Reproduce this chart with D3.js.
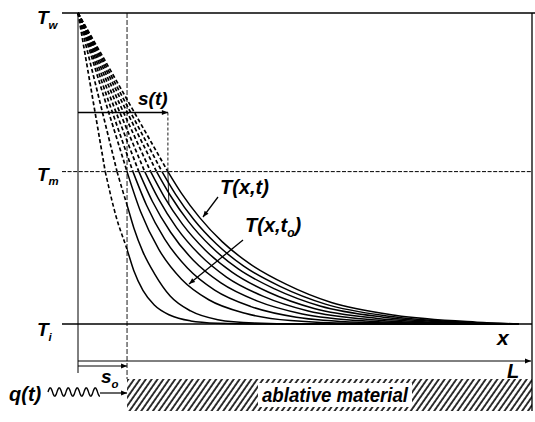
<!DOCTYPE html>
<html>
<head>
<meta charset="utf-8">
<script src="https://cdn.jsdelivr.net/npm/d3@7"></script>
<style>
  html, body { margin: 0; padding: 0; background: #fff; }
  svg { display: block; }
  text { font-family: "Liberation Sans", Arial, Helvetica, sans-serif; font-weight: bold; font-style: italic; fill: #000; }
</style>
</head>
<body>
<svg id="chart" width="535" height="422"></svg>
<script>
// Normalised temperature: initial T_i = 0, wall T_w = 100
const levelLabels = ["i", "m", "w"];
const levelValues = [0, 49, 100];

// Positions through the slab, slab length L = 100
const initialFront = 10.8;   // s_o
const currentFront = 19.8;   // s(t)
const frontGuideT = 68;      // height of the s(t) dimension line

// Where each profile reaches the melt temperature
const meltX = [6.0, 8.6, 10.8, 12.1, 13.4, 14.7, 16.0, 17.3, 18.5, 19.8];

// Profiles below the melt temperature: positions and temperatures
const profileX = [
  [6.0, 8.4, 10.8, 12.3, 14.3, 16.8, 20.3, 24.8, 30.8, 38.8, 97],
  [8.6, 9.7, 10.8, 12.3, 14.3, 16.8, 20.3, 24.8, 30.8, 38.8, 48.8, 97],
  [10.8, 13.8, 17.8, 22.8, 28.8, 36.8, 46.8, 60.8, 97],
  [12.1, 15.1, 19.1, 24.1, 30.1, 38.1, 48.1, 62.1, 80.1, 97],
  [13.4, 16.4, 20.4, 25.4, 31.4, 39.4, 49.4, 63.4, 81.4, 97],
  [14.7, 17.7, 21.7, 26.7, 32.7, 40.7, 50.7, 64.7, 82.7, 97],
  [16.0, 19.0, 23.0, 28.0, 34.0, 42.0, 52.0, 66.0, 84.0, 97],
  [17.3, 20.3, 24.3, 29.3, 35.3, 43.3, 53.3, 67.3, 85.3, 97],
  [18.5, 21.5, 25.5, 30.5, 36.5, 44.5, 54.5, 68.5, 86.5, 97],
  [19.8, 22.8, 26.8, 31.8, 37.8, 45.8, 55.8, 69.8, 87.8, 97]
];
const profileT = [
  [49, 34.5, 24.0, 17.1, 10.8, 6.1, 2.8, 1.0, 0.25, 0, 0],
  [49, 43.5, 38.3, 30.9, 23.2, 16.3, 9.0, 4.2, 1.4, 0.3, 0, 0],
  [49, 36.1, 24.0, 14.4, 7.8, 3.45, 1.1, 0.22, 0],
  [49, 38.2, 27.3, 18.0, 10.9, 5.6, 2.2, 0.57, 0.07, 0],
  [49, 39.4, 29.5, 20.5, 13.3, 7.45, 3.25, 0.98, 0.14, 0],
  [49, 40.3, 31.0, 22.4, 15.1, 8.96, 4.2, 1.4, 0.23, 0],
  [49, 40.9, 32.1, 23.8, 16.6, 10.2, 5.0, 1.8, 0.33, 0],
  [49, 41.4, 33.0, 24.9, 17.7, 11.3, 5.8, 2.2, 0.42, 0],
  [49, 41.7, 33.6, 25.7, 18.6, 12.1, 6.4, 2.5, 0.5, 0],
  [49, 42.0, 34.2, 26.4, 19.4, 12.8, 6.9, 2.8, 0.6, 0]
];

const svg = d3.select("#chart");
const x = d3.scaleLinear().domain([0, 100]).range([78, 532]);
const y = d3.scaleLinear().domain([0, 100]).range([324, 13]);

const T_i = levelValues[0], T_m = levelValues[1], T_w = levelValues[2];
const axisY = 361, baseBottom = 373, hatchTop = 379, hatchBottom = 411;

const defs = svg.append("defs");
defs.append("marker")
  .attr("id", "arrow").attr("viewBox", "0 0 10 10")
  .attr("refX", 10).attr("refY", 5)
  .attr("markerWidth", 10).attr("markerHeight", 6)
  .attr("markerUnits", "userSpaceOnUse").attr("orient", "auto")
  .append("path").attr("d", "M0,1 L10,5 L0,9 Z").attr("fill", "#000");

const hatch = defs.append("pattern")
  .attr("id", "hatch").attr("patternUnits", "userSpaceOnUse")
  .attr("width", 4.8).attr("height", 10)
  .attr("patternTransform", "rotate(35)");
hatch.append("line").attr("x1", 1).attr("y1", 0).attr("x2", 1).attr("y2", 10)
  .attr("stroke", "#000").attr("stroke-width", 1.6);

// clip regions: ahead of and behind the initial surface
defs.append("clipPath").attr("id", "preClip")
  .append("rect").attr("x", 0).attr("y", 0).attr("width", x(initialFront)).attr("height", 422);
defs.append("clipPath").attr("id", "postClip")
  .append("rect").attr("x", x(initialFront)).attr("y", 0).attr("width", 535 - x(initialFront)).attr("height", 422);

const g = svg.append("g");

// ---- profile curves ----
const upper = g.append("g");
meltX.forEach(m => {
  upper.append("line")
    .attr("x1", x(0)).attr("y1", y(T_w))
    .attr("x2", x(m)).attr("y2", y(T_m))
    .attr("stroke", "#000").attr("stroke-width", 1.7)
    .attr("stroke-dasharray", "4,2.4");
});

const lineGen = d3.line()
  .x(d => x(d[0])).y(d => y(d[1]))
  .curve(d3.curveMonotoneX);

profileX.forEach((xs, i) => {
  const pts = xs.map((v, k) => [v, profileT[i][k]]);
  g.append("path").attr("d", lineGen(pts))
    .attr("fill", "none").attr("stroke", "#000").attr("stroke-width", 1.6)
    .attr("stroke-dasharray", "4,2.4").attr("clip-path", "url(#preClip)");
  g.append("path").attr("d", lineGen(pts))
    .attr("fill", "none").attr("stroke", "#000").attr("stroke-width", 1.5)
    .attr("clip-path", "url(#postClip)");
});

// ---- frame and reference lines ----
const ln = (x1, y1, x2, y2, w, dash) => {
  const l = g.append("line")
    .attr("x1", x1).attr("y1", y1).attr("x2", x2).attr("y2", y2)
    .attr("stroke", "#000").attr("stroke-width", w);
  if (dash) l.attr("stroke-dasharray", dash);
  return l;
};

ln(62, y(T_w), 535, y(T_w), 1.4);
ln(62, y(T_m), x(100), y(T_m), 1, "4,1.6");
ln(62, y(T_i), x(100), y(T_i), 1.4);
ln(x(0), y(T_w), x(0), baseBottom, 1);
ln(x(100), y(T_w), x(100), hatchBottom, 1.3);
ln(x(initialFront), y(T_w), x(initialFront), hatchTop, 0.9, "5,2");

// s(t) dimension
ln(x(0), y(frontGuideT), x(currentFront), y(frontGuideT), 1.3).attr("marker-end", "url(#arrow)");
ln(x(currentFront), y(frontGuideT), x(currentFront), y(T_m), 0.9, "3,2");
ln(x(currentFront), y(T_m), x(currentFront) + 1, y(T_m) + 33, 0.9);

// x axis and s_o dimension
ln(x(0), axisY, x(100) - 1, axisY, 1).attr("marker-end", "url(#arrow)");
ln(x(0), axisY + 5, x(initialFront), axisY + 5, 1).attr("marker-end", "url(#arrow)");

// ablative material block
g.append("rect")
  .attr("x", x(initialFront)).attr("y", hatchTop)
  .attr("width", x(100) - x(initialFront)).attr("height", hatchBottom - hatchTop)
  .attr("fill", "url(#hatch)");
g.append("rect").attr("x", 258).attr("y", 383).attr("width", 154).attr("height", 24).attr("fill", "#fff");
g.append("text").attr("x", 262).attr("y", 402).attr("font-size", 20)
  .attr("textLength", 146).attr("lengthAdjust", "spacingAndGlyphs")
  .text("ablative material");

// heat flux q(t)
const wave = [];
for (let k = 0; k <= 104; k++) {
  const px = 48 + k * 0.5;
  wave.push([px, 392 - 4.2 * Math.sin((px - 48) / 9 * 2 * Math.PI)]);
}
g.append("path").attr("d", d3.line().curve(d3.curveBasis)(wave)).attr("fill", "none").attr("stroke", "#000").attr("stroke-width", 1.4);
ln(100, 393, x(initialFront), 393, 1.2).attr("marker-end", "url(#arrow)");

// pointers to labelled profiles
ln(218, 197, 203, 217, 1.3).attr("marker-end", "url(#arrow)");
ln(243, 240, 189, 284, 1.3).attr("marker-end", "url(#arrow)");

// ---- labels ----
const label = (px, py, size, main, sub, tail) => {
  const t = g.append("text").attr("x", px).attr("y", py).attr("font-size", size);
  t.append("tspan").text(main);
  if (sub) t.append("tspan").attr("font-size", size * 0.6).attr("dy", size * 0.25).text(sub);
  if (tail) t.append("tspan").attr("dy", -size * 0.25).text(tail);
  return t;
};

const levelY = [y(T_i) + 12, y(T_m) + 9, y(T_w) + 11];
levelLabels.forEach((s, i) => label(37, levelY[i], 19, "T", s));

label(138, 105, 19, "s(t)");
label(220, 194, 20, "T(x,t)");
label(245, 232, 20, "T(x,t", "o", ")");
label(497, 345, 21, "x");
label(507, 378, 20, "L");
label(101, 383, 19, "s", "o");
label(9, 401, 20, "q(t)");
</script>
</body>
</html>
